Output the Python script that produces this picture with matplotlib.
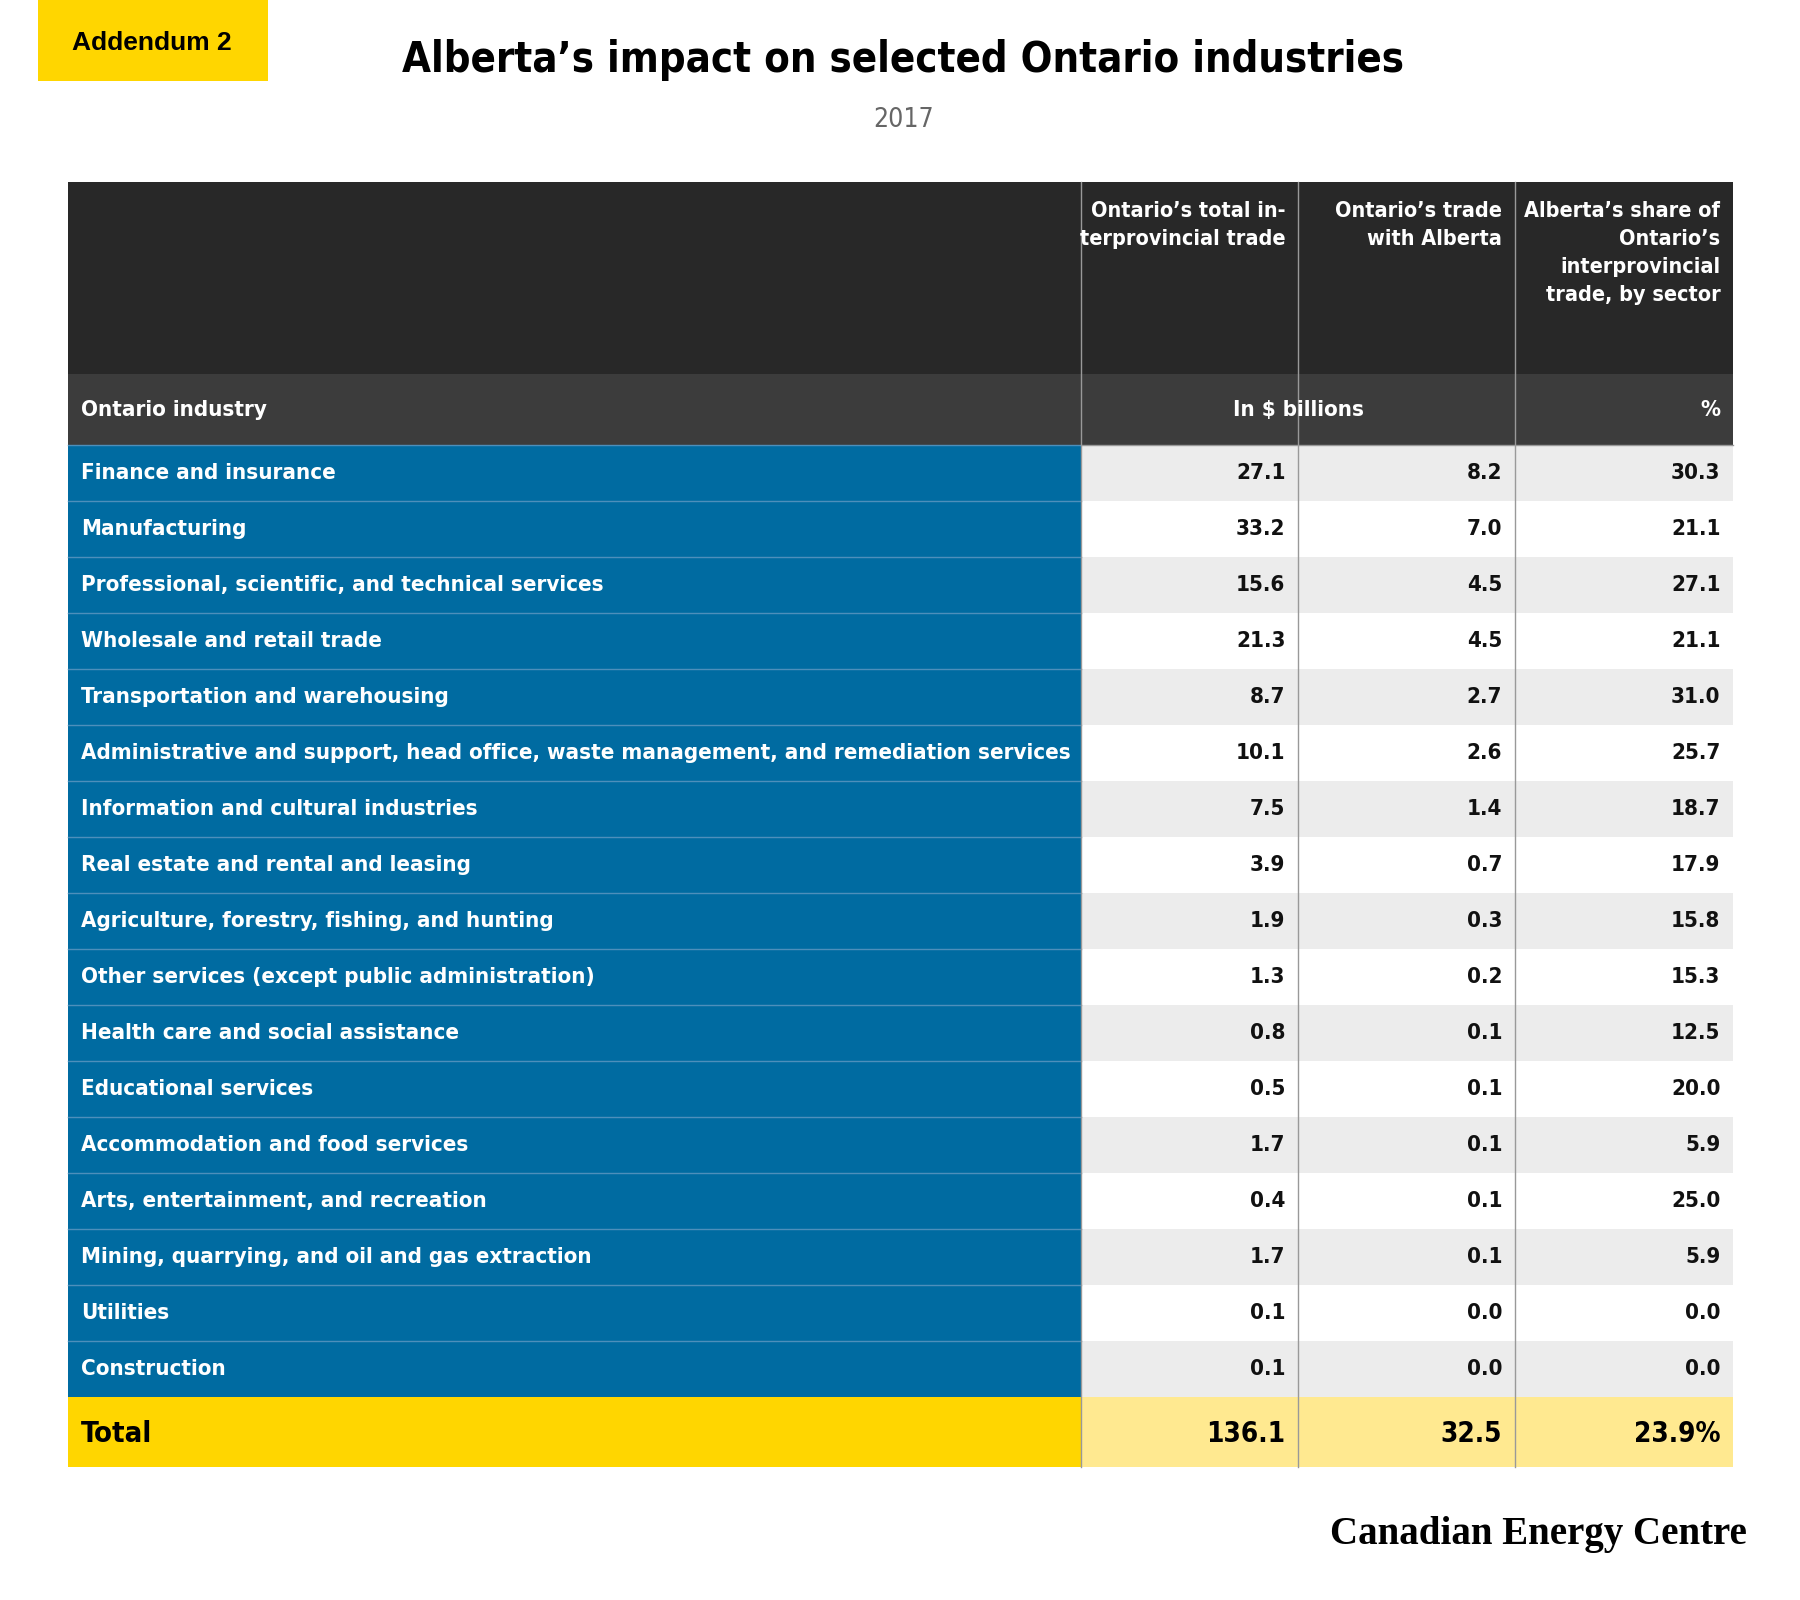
import matplotlib
matplotlib.use("Agg")
import matplotlib.pyplot as plt
from matplotlib.patches import Rectangle
from matplotlib import font_manager

industries = [
    "Finance and insurance", "Manufacturing",
    "Professional, scientific, and technical services",
    "Wholesale and retail trade", "Transportation and warehousing",
    "Administrative and support, head office, waste management, and remediation services",
    "Information and cultural industries", "Real estate and rental and leasing",
    "Agriculture, forestry, fishing, and hunting",
    "Other services (except public administration)",
    "Health care and social assistance", "Educational services",
    "Accommodation and food services", "Arts, entertainment, and recreation",
    "Mining, quarrying, and oil and gas extraction", "Utilities", "Construction",
]
total_trade = [27.1, 33.2, 15.6, 21.3, 8.7, 10.1, 7.5, 3.9, 1.9, 1.3, 0.8, 0.5, 1.7, 0.4, 1.7, 0.1, 0.1]
alberta_trade = [8.2, 7.0, 4.5, 4.5, 2.7, 2.6, 1.4, 0.7, 0.3, 0.2, 0.1, 0.1, 0.1, 0.1, 0.1, 0.0, 0.0]
share = [30.3, 21.1, 27.1, 21.1, 31.0, 25.7, 18.7, 17.9, 15.8, 15.3, 12.5, 20.0, 5.9, 25.0, 5.9, 0.0, 0.0]
totals = ["136.1", "32.5", "23.9%"]

# condensed font if there is one
cond = font_manager.findfont(font_manager.FontProperties(family="DejaVu Sans", stretch="condensed", weight="bold"))
if "Condensed" in cond:
    FP = dict(family="DejaVu Sans", stretch="condensed")
    k = 1.0
else:
    FP = dict(family="Liberation Sans")
    k = 0.92
plt.rcParams['font.family'] = [FP["family"], "DejaVu Sans"]

fig = plt.figure(figsize=(18, 16), dpi=100)
ax = fig.add_axes([0, 0, 1, 1])
ax.set_xlim(0, 1560)
ax.set_ylim(1387, 0)
ax.axis("off")

def txt(x, y, s, size, **kw):
    kw.setdefault("fontweight", "bold")
    ax.text(x, y, s, fontsize=size * k, **FP, **kw)

L, C1, C2, C3, R = 59, 937, 1125, 1313, 1502
head_top, sub_top, rows_top = 158, 324, 386
rh = (1211 - 386) / len(industries)
tot_bot = 1272

def rect(x0, y0, x1, y1, c):
    ax.add_patch(Rectangle((x0, y0), x1 - x0, y1 - y0, color=c, lw=0))

# badge and titles
rect(33, 0, 232, 70, "#ffd600")
ax.text(132, 37, "Addendum 2", ha="center", va="center", fontsize=19, fontweight="bold", family="Liberation Sans")
txt(783, 52, "Alberta’s impact on selected Ontario industries", 30, ha="center", va="center")
txt(783, 104, "2017", 19, ha="center", va="center", color="#666666", fontweight="normal")

# header
rect(L, head_top, R, sub_top, "#282828")
rect(L, sub_top, R, rows_top, "#3c3c3c")
heads = ["Ontario’s total in-\nterprovincial trade", "Ontario’s trade\nwith Alberta",
         "Alberta’s share of\nOntario’s\ninterprovincial\ntrade, by sector"]
for xr, h in zip([C2, C3, R], heads):
    txt(xr - 11, 174, h, 15.5, ha="right", va="top", color="white", linespacing=1.5)
txt(L + 11, 355, "Ontario industry", 16, ha="left", va="center", color="white")
txt((C1 + C3) / 2, 355, "In $ billions", 16, ha="center", va="center", color="white")
txt(R - 11, 355, "%", 16, ha="right", va="center", color="white")

for i, name in enumerate(industries):
    y0 = rows_top + i * rh
    yc = y0 + rh / 2
    rect(L, y0, C1, y0 + rh, "#006ba1")
    rect(C1, y0, R, y0 + rh, "#ececec" if i % 2 == 0 else "white")
    ax.plot([L, C1], [y0, y0], color="#4d8fbb", lw=1)
    txt(L + 11, yc, name, 16, ha="left", va="center", color="white")
    for xr, v in zip([C2, C3, R], [total_trade[i], alberta_trade[i], share[i]]):
        txt(xr - 11, yc, f"{v:.1f}", 16, ha="right", va="center", color="#111111")

# total row
rect(L, 1211, C1, tot_bot, "#ffd600")
rect(C1, 1211, R, tot_bot, "#ffe990")
txt(L + 11, 1243, "Total", 21, ha="left", va="center")
for xr, v in zip([C2, C3, R], totals):
    txt(xr - 11, 1243, v, 20, ha="right", va="center")

for x in [C1, C2, C3]:
    ax.plot([x, x], [head_top, tot_bot], color="#999999", lw=1)
ax.plot([C1, R], [rows_top, rows_top], color="#999999", lw=1)

ax.text(1514, 1330, "Canadian Energy Centre", ha="right", va="center", fontsize=28, fontweight="bold",
        family=["Liberation Serif", "DejaVu Serif"])

fig.savefig("out.png", dpi=100)
